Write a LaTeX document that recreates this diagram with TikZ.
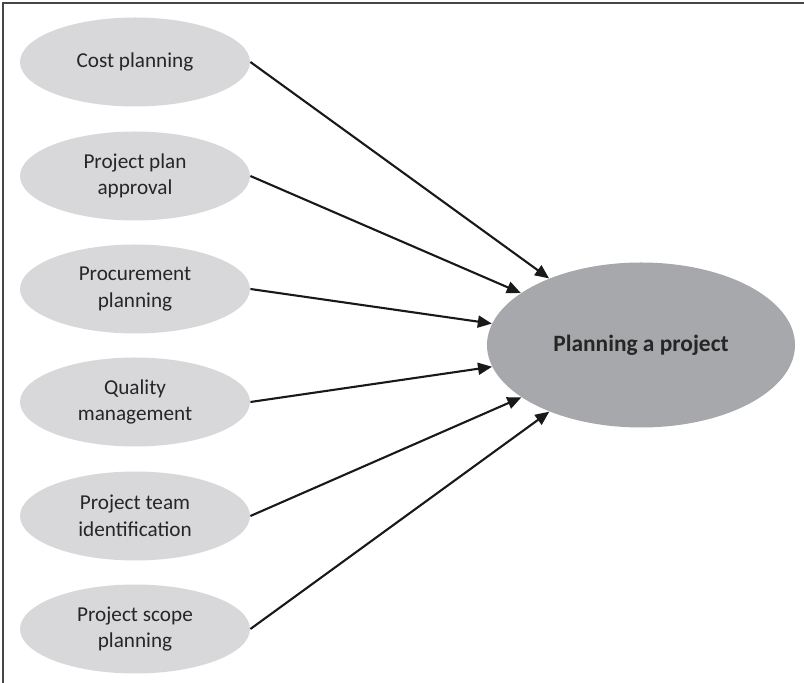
\documentclass[tikz,border=0pt]{standalone}
\usepackage{fontspec}
\setmainfont{Carlito}
\usetikzlibrary{shapes.geometric,arrows.meta}
\definecolor{taskgray}{RGB}{216,216,218}
\definecolor{goalgray}{RGB}{167,168,172}
\definecolor{framegray}{RGB}{70,70,70}
\tikzset{
  task/.style={ellipse, fill=taskgray, minimum width=115pt, minimum height=44.5pt, inner sep=0pt, align=center, font=\fontsize{10.6}{13.3}\selectfont, text=black!85},
  goal/.style={ellipse, fill=goalgray, minimum width=154pt, minimum height=82.5pt, inner sep=0pt, font=\fontsize{11.7}{14}\selectfont\bfseries, text=black!85},
  feed/.style={-{Triangle[length=7pt,width=6pt]}, line width=1.05pt, black!90}
}
\begin{document}
\begin{tikzpicture}[x=0.5pt,y=-0.5pt]
  \useasboundingbox (0,0) rectangle (804,683);
  % frame, only top and left edges show
  \draw[framegray, line width=0.8pt] (3,683) -- (3,3) -- (804,3);
  \node[task] (cost) at (135,62) {Cost planning};
  \node[task] (approval) at (135,176) {Project plan\\ approval};
  \node[task] (procure) at (135,289) {Procurement\\ planning};
  \node[task] (quality) at (135,402) {Quality\\ management};
  \node[task] (team) at (135,516) {Project team\\ identification};
  \node[task] (scope) at (135,629) {Project scope\\ planning};
  \node[goal] (plan) at (641,345) {Planning a project};
  \draw[feed] (cost.east) -- (plan);
  \draw[feed] (approval.east) -- (plan);
  \draw[feed] (procure.east) -- (plan);
  \draw[feed] (quality.east) -- (plan);
  \draw[feed] (team.east) -- (plan);
  \draw[feed] (scope.east) -- (plan);
\end{tikzpicture}
\end{document}
